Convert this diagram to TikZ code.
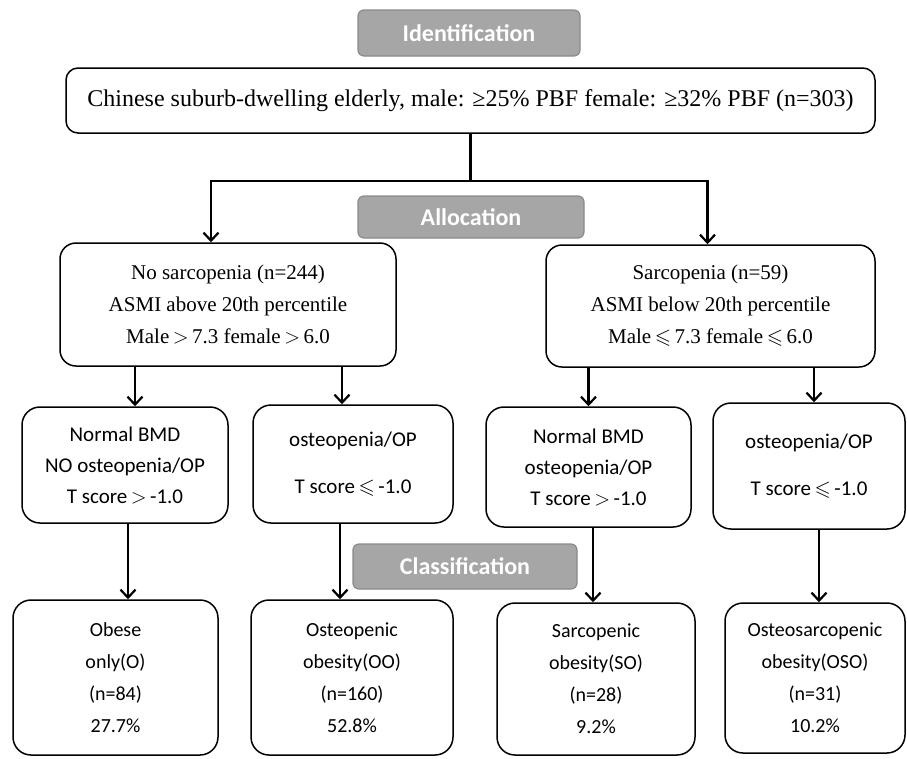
\documentclass[tikz,border=0pt]{standalone}
\usepackage{fontspec}
\usepackage{amssymb}
\setmainfont{Liberation Serif}
\newfontfamily\calibri{Carlito}
\usetikzlibrary{arrows.meta, positioning, calc}
\definecolor{cInk}{HTML}{000000}
\definecolor{cStage}{HTML}{A6A6A6}
\definecolor{cStageEdge}{HTML}{8A8A8A}
\tikzset{
  stage/.style={rectangle, rounded corners=6pt, draw=cStageEdge, line width=1.2pt, fill=cStage,
    text=white, font=\calibri\bfseries\fontsize{24}{28}\selectfont, inner sep=0pt},
  serifbox/.style={rectangle, rounded corners=16pt, draw=cInk, line width=1.5pt,
    align=center, font=\fontsize{21}{32}\selectfont, inner sep=0pt},
  sansbox/.style={rectangle, rounded corners=18pt, draw=cInk, line width=1.5pt,
    align=center, font=\calibri\fontsize{20}{32}\selectfont, inner sep=0pt},
  link/.style={draw=cInk, line width=2.2pt},
  arr/.style={-{Straight Barb[length=8pt, width=15pt]}, draw=cInk, line width=2.2pt},
}

\begin{document}
\begin{tikzpicture}[x=1pt, y=-1pt]
\useasboundingbox (0,0) rectangle (907,758);
% identification
\node[stage, minimum width=222pt, minimum height=46pt] (ident) at (469,33) {Identification};
\node[serifbox, rounded corners=12pt, font=\fontsize{24}{28}\selectfont, minimum width=809pt, minimum height=65pt] (main) at (470.5,100.5)
  {Chinese suburb-dwelling elderly, male: ≥25\% PBF female: ≥32\% PBF (n=303)};
% allocation
\node[stage, minimum width=226pt, minimum height=42pt] (alloc) at (471,217) {Allocation};
\node[serifbox, minimum width=336pt, minimum height=123pt] (noSarc) at (228,304.5)
  {No sarcopenia (n=244)\\ ASMI above 20th percentile\\ Male\,$>$\,7.3 female\,$>$\,6.0};
\node[serifbox, minimum width=329pt, minimum height=122pt] (sarc) at (710.5,306)
  {Sarcopenia (n=59)\\ ASMI below 20th percentile\\ Male\,$\leqslant$\,7.3 female\,$\leqslant$\,6.0};
\coordinate (split) at ([yshift=-47pt]main.south);
\draw[link] (main.south) -- (split);
\draw[arr] (split) -| ([xshift=-17pt]noSarc.north);
\draw[arr] (split) -| ([xshift=-3pt]sarc.north);
% bone density
\node[sansbox, font=\calibri\fontsize{21}{31}\selectfont, minimum width=206pt, minimum height=116pt] (normA) at (125,465)
  {Normal BMD\\ NO osteopenia/OP\\ T score\,$>$\,-1.0};
\node[sansbox, font=\calibri\fontsize{21}{31}\selectfont, minimum width=200pt, minimum height=118pt] (osteoA) at (353,464)
  {osteopenia/OP\\[16pt] T score\,$\leqslant$\,-1.0};
\node[sansbox, font=\calibri\fontsize{21}{31}\selectfont, minimum width=205pt, minimum height=120pt] (normB) at (588.5,467)
  {Normal BMD\\ osteopenia/OP\\ T score\,$>$\,-1.0};
\node[sansbox, font=\calibri\fontsize{21}{31}\selectfont, minimum width=192pt, minimum height=126pt] (osteoB) at (809,466)
  {osteopenia/OP\\[16pt] T score\,$\leqslant$\,-1.0};
\draw[arr] ([xshift=10pt]normA.north |- noSarc.south) -- ([xshift=10pt]normA.north);
\draw[arr] ([xshift=-11pt]osteoA.north |- noSarc.south) -- ([xshift=-11pt]osteoA.north);
\draw[arr] (normB.north |- sarc.south) -- (normB.north);
\draw[arr] ([xshift=5pt]osteoB.north |- sarc.south) -- ([xshift=5pt]osteoB.north);
% classification
\node[stage, minimum width=224pt, minimum height=45pt] (classif) at (465,566.5) {Classification};
\node[sansbox, minimum width=205pt, minimum height=155pt] (obese) at (115.5,677.5)
  {Obese\\ only(O)\\ (n=84)\\ 27.7\%};
\node[sansbox, minimum width=202pt, minimum height=155pt] (oo) at (352,677.5)
  {Osteopenic\\ obesity(OO)\\ (n=160)\\ 52.8\%};
\node[sansbox, minimum width=198pt, minimum height=152pt] (so) at (596,679)
  {Sarcopenic\\ obesity(SO)\\ (n=28)\\ 9.2\%};
\node[sansbox, minimum width=180pt, minimum height=150pt] (oso) at (815,678)
  {Osteosarcopenic\\ obesity(OSO)\\ (n=31)\\ 10.2\%};
\draw[arr] ([xshift=3pt]normA.south) -- ([xshift=3pt]normA.south |- obese.north);
\draw[arr] ([xshift=-13pt]osteoA.south) -- ([xshift=-13pt]osteoA.south |- oo.north);
\draw[arr] ([xshift=4.5pt]normB.south) -- ([xshift=4.5pt]normB.south |- so.north);
\draw[arr] ([xshift=10pt]osteoB.south) -- ([xshift=10pt]osteoB.south |- oso.north);
\end{tikzpicture}
\end{document}
